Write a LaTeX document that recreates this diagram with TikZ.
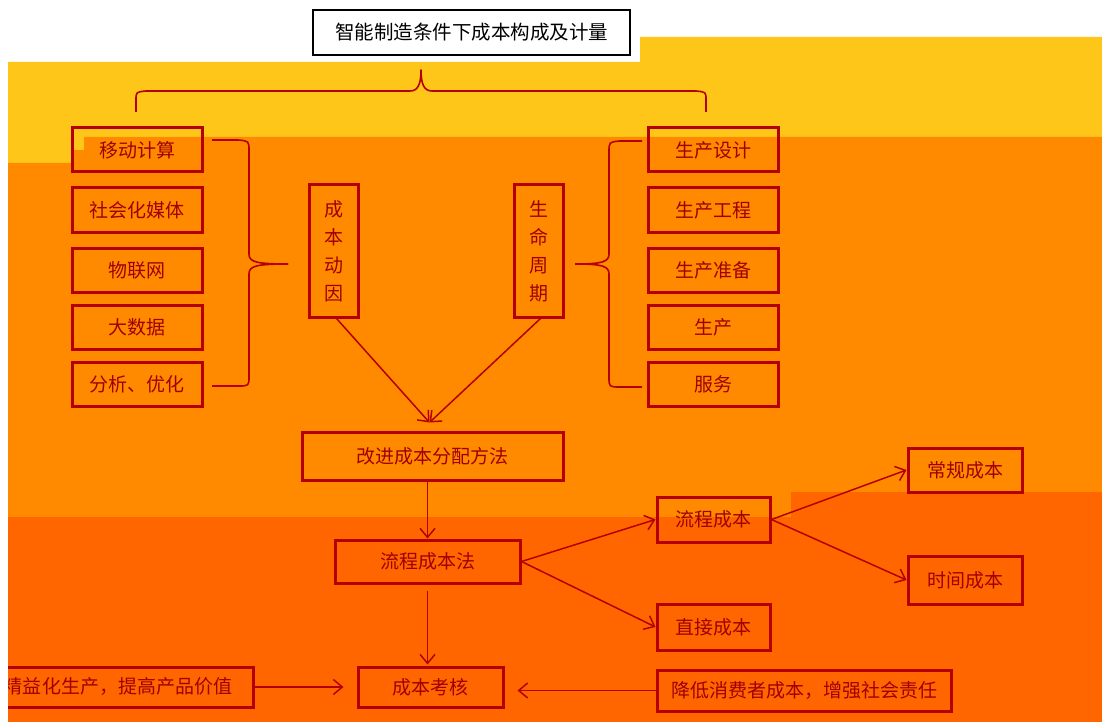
\documentclass[tikz,border=0pt]{standalone}
\usepackage{fontspec}
\newfontfamily\cjk{Noto Sans CJK SC}
\usetikzlibrary{arrows.meta}
\definecolor{bgyellow}{HTML}{FFC61A}
\definecolor{bgorange}{HTML}{FF8A00}
\definecolor{bgdark}{HTML}{FF6600}
\definecolor{boxred}{HTML}{B40000}
\definecolor{txtred}{HTML}{A00000}
\tikzset{
  box/.style={draw=boxred, line width=3pt, text=txtred, inner sep=0pt,
    font=\cjk\fontsize{19}{19}\selectfont},
  vbox/.style={box, align=center, font=\cjk\fontsize{19}{28}\selectfont},
  conn/.style={draw=boxred, line width=1.5pt},
  arr/.style={conn, -{Straight Barb[length=9pt,width=15pt,line width=1.5pt]}},
  brace/.style={draw=boxred, line width=1.6pt, line join=round},
}
\begin{document}
\begin{tikzpicture}[x=1pt,y=-1pt]
\useasboundingbox (0,0) rectangle (1102,722);
% background bands
\fill[white] (0,0) rectangle (1102,722);
\fill[bgyellow] (8,62) -- (640,62) -- (640,37) -- (1102,37) -- (1102,137) -- (84,137) -- (84,163) -- (8,163) -- cycle;
\fill[bgorange] (8,163) -- (84,163) -- (84,137) -- (1102,137) -- (1102,492) -- (791,492) -- (791,517) -- (8,517) -- cycle;
\fill[bgorange] (72,150) rectangle (84,163);
\fill[bgdark] (8,517) -- (791,517) -- (791,492) -- (1102,492) -- (1102,722) -- (8,722) -- cycle;

% title
\node[draw=black, line width=2.6pt, fill=white, text=black, inner sep=0pt,
  minimum width=317pt, minimum height=45pt,
  font=\cjk\fontsize{19.5}{19.5}\selectfont] (title) at (471.5,32.5) {智能制造条件下成本构成及计量};

% left column
\node[box, minimum width=130pt, minimum height=44pt] (l1) at (137,150) {移动计算};
\node[box, minimum width=130pt, minimum height=44pt] (l2) at (137,210) {社会化媒体};
\node[box, minimum width=130pt, minimum height=44pt] (l3) at (137,270) {物联网};
\node[box, minimum width=130pt, minimum height=44pt] (l4) at (137,327) {大数据};
\node[box, minimum width=130pt, minimum height=44pt] (l5) at (137,384) {分析、优化};

% right column
\node[box, minimum width=130pt, minimum height=44pt] (r1) at (713,150) {生产设计};
\node[box, minimum width=130pt, minimum height=44pt] (r2) at (713,210) {生产工程};
\node[box, minimum width=130pt, minimum height=44pt] (r3) at (713,270) {生产准备};
\node[box, minimum width=130pt, minimum height=44pt] (r4) at (713,327) {生产};
\node[box, minimum width=130pt, minimum height=44pt] (r5) at (713,384) {服务};

% vertical boxes
\node[vbox, minimum width=49pt, minimum height=132pt] (cbdy) at (333.5,251) {成\\本\\动\\因};
\node[vbox, minimum width=49pt, minimum height=132pt] (smzq) at (538.5,251) {生\\命\\周\\期};

% middle flow
\node[box, minimum width=261pt, minimum height=48pt] (gj) at (432.5,456) {改进成本分配方法};
\node[box, minimum width=185pt, minimum height=43pt] (lc) at (427.5,561.5) {流程成本法};
\node[box, minimum width=145pt, minimum height=40pt] (kh) at (430.5,687) {成本考核};
\node[box, minimum width=113pt, minimum height=45pt] (lcb) at (713.5,519.5) {流程成本};
\node[box, minimum width=113pt, minimum height=46pt] (zj) at (713.5,627) {直接成本};
\node[box, minimum width=114pt, minimum height=44pt] (cg) at (965,470) {常规成本};
\node[box, minimum width=114pt, minimum height=48pt] (sj) at (965,580) {时间成本};
\node[box, minimum width=294pt, minimum height=41pt] (jd) at (804,690.5) {降低消费者成本，增强社会责任};
\node[box, minimum width=270pt, minimum height=40pt] (jy) at (118,687) {精益化生产，提高产品价值};

% braces
\draw[brace] (136,112) -- (136,100) .. controls (136,92) .. (146,91) -- (410,91)
  .. controls (418,91) and (421,84) .. (421,70)
  .. controls (421,84) and (424,91) .. (432,91) -- (696,91)
  .. controls (706,92) .. (706,100) -- (706,112);
\draw[brace] (212,140) -- (238,140) .. controls (249,141) .. (249,151) -- (249,254)
  .. controls (249,262) and (256,264) .. (288,264);
\draw[brace] (288,264) .. controls (256,264) and (249,266) .. (249,274) -- (249,376)
  .. controls (249,386) .. (238,386) -- (212,386);
\draw[brace] (642,141) -- (620,141) .. controls (609,142) .. (609,152) -- (609,254)
  .. controls (609,262) and (602,264) .. (575,264);
\draw[brace] (575,264) .. controls (602,264) and (609,266) .. (609,274) -- (609,377)
  .. controls (609,387) .. (620,387) -- (642,387);

% connectors
\draw[arr] ([xshift=3pt]cbdy.south) -- ([xshift=-3pt,yshift=8pt]gj.north);
\draw[arr] ([xshift=2pt]smzq.south) -- ([xshift=-3pt,yshift=8pt]gj.north);
\draw[arr] (gj.south -| lc.north) -- (lc.north);
\draw[arr, shorten <=6pt, shorten >=1pt] (lc.south) -- (lc.south |- kh.north);
\draw[arr] (lc.east) -- (lcb.west);
\draw[arr] (lc.east) -- (zj.west);
\draw[arr] (lcb.east) -- (cg.west);
\draw[arr] (lcb.east) -- (sj.west);
\draw[arr, shorten >=13pt] (jy.east) -- (jy.east -| kh.west);
\draw[arr, shorten >=13pt] (jd.west) -- (jd.west -| kh.east);

% left white margin
\fill[white] (0,0) rectangle (8,722);
\end{tikzpicture}
\end{document}
